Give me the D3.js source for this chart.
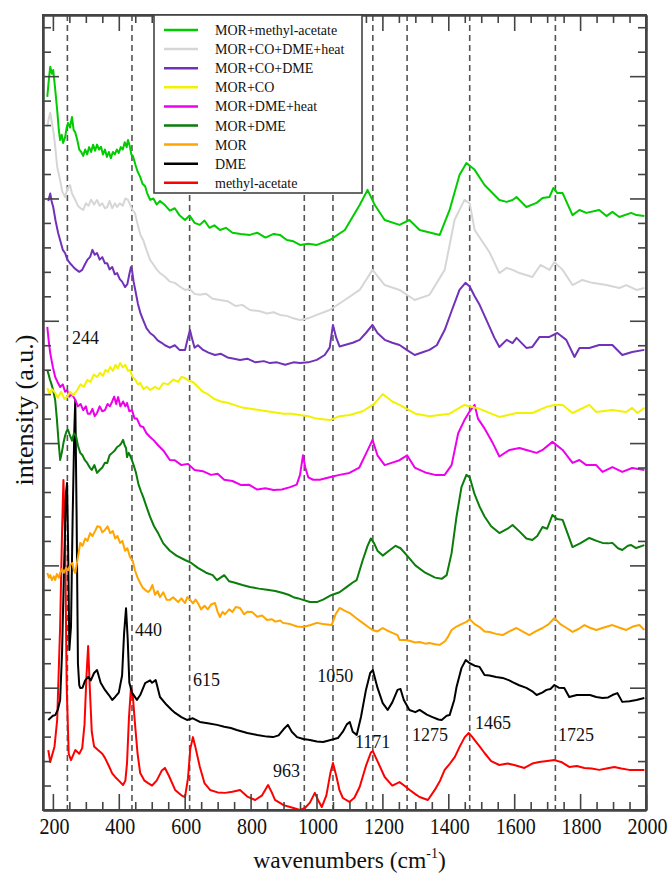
<!DOCTYPE html>
<html lang="en">
<head>
  <meta charset="UTF-8">
  <title>Raman spectra</title>
  <style type="text/css" media="all">
    body { margin: 0; background: #fff; }
    svg text { font-family: "Liberation Serif", "DejaVu Serif", serif; fill: #111; }
    .axis path, .axis line { stroke: #444; }
  </style>
</head>
<body>
  <div id="graph"></div>
  <script src="https://d3js.org/d3.v7.min.js" charset="utf-8"></script>
  <script>
    // legend order, top to bottom
    var seriesNames = ['MOR+methyl-acetate', 'MOR+CO+DME+heat', 'MOR+CO+DME', 'MOR+CO',
      'MOR+DME+heat', 'MOR+DME', 'MOR', 'DME', 'methyl-acetate'];
    var seriesColors = ['#00cc00', '#d6d6d6', '#7032b8', '#f2f200', '#ee00ee', '#0a7d0a', '#ffa500', '#000000', '#ff0000'];

    var peakLines = [244, 440, 615, 963, 1050, 1171, 1275, 1465, 1725];
    var peakLabels = ['244', '440', '615', '963', '1050', '1171', '1275', '1465', '1725'];
    var xTicks = [200, 400, 600, 800, 1000, 1200, 1400, 1600, 1800, 2000];

    // [wavenumber, intensity]
    var morMethylAcetate = [[183,29.15],[188,29.9],[192,30.38],[197,30.1],[201,30.25],[206,29.6],[213,28.62],[218,27.8],[222,27.39],[227,27.6],[231,27.27],[237,27.5],[242,27.9],[246,28.09],[252,27.9],[258,28.33],[263,27.8],[268,27.7],[274,27.39],[280,27.0],[286,26.9],[292,26.74],[298,27.0],[304,26.8],[310,27.1],[316,26.9],[322,27.2],[328,26.95],[334,27.2],[340,27.0],[346,27.11],[352,26.8],[358,27.0],[364,26.7],[370,26.9],[376,26.65],[382,26.9],[388,26.8],[394,27.0],[400,26.86],[406,27.1],[412,27.0],[418,27.3],[424,27.1],[428,27.39],[434,27.1],[438,26.8],[443,26.74],[450,26.4],[457,26.1],[465,25.88],[472,25.6],[480,25.5],[486,25.22],[495,24.94],[505,25.0],[515,24.75],[525,24.9],[540,24.73],[555,24.5],[570,24.6],[585,24.3],[601,24.12],[615,24.3],[630,24.0],[646,23.92],[660,24.1],[675,23.8],[690,23.9],[707,23.71],[725,23.8],[745,23.6],[770,23.55],[798,23.51],[820,23.6],[845,23.4],[870,23.55],[889,23.51],[910,23.3],[930,23.25],[950,23.1],[975,23.15],[1001,23.1],[1040,23.3],[1086,23.71],[1131,24.73],[1155,25.35],[1177,24.73],[1207,24.12],[1252,23.92],[1282,24.12],[1313,23.71],[1374,23.51],[1404,24.53],[1434,25.96],[1455,26.45],[1480,26.17],[1510,25.55],[1555,24.94],[1577,24.86],[1595,24.94],[1607,25.06],[1637,24.65],[1668,24.82],[1686,25.02],[1707,25.06],[1719,25.43],[1731,25.22],[1747,25.22],[1777,24.32],[1798,24.53],[1819,24.41],[1858,24.53],[1880,24.28],[1898,24.45],[1919,24.24],[1955,24.41],[1971,24.32],[1995,24.28]];

    var morCoDmeHeat = [[183,27.92],[188,28.3],[192,28.5],[197,28.1],[203,27.6],[208,27.0],[213,26.3],[222,25.75],[228,25.3],[237,25.06],[244,25.4],[252,25.55],[258,25.2],[268,24.94],[276,24.7],[284,24.6],[292,24.53],[300,24.8],[308,24.7],[316,24.95],[325,24.75],[334,24.94],[342,24.7],[350,24.8],[358,24.6],[365,24.65],[372,24.9],[380,24.6],[388,24.8],[395,24.65],[403,24.8],[412,24.7],[420,25.0],[428,24.94],[436,24.7],[443,24.5],[449,24.41],[458,23.9],[466,23.5],[474,23.3],[484,22.9],[495,22.49],[505,22.3],[515,22.1],[525,21.95],[540,21.8],[555,21.6],[570,21.55],[585,21.4],[601,21.26],[615,21.3],[630,21.1],[646,21.06],[665,21.1],[685,20.9],[707,20.85],[730,20.8],[755,20.6],[775,20.65],[798,20.44],[825,20.4],[850,20.3],[870,20.35],[889,20.24],[910,20.2],[930,20.1],[950,20.03],[975,20.1],[1001,20.24],[1040,20.44],[1086,20.85],[1131,21.26],[1170,22.08],[1207,21.46],[1252,21.26],[1298,20.85],[1343,21.06],[1389,22.08],[1419,24.12],[1449,24.94],[1465,24.8],[1480,23.71],[1525,22.8],[1555,21.95],[1577,22.16],[1595,22.08],[1616,21.95],[1655,21.79],[1680,22.28],[1707,22.08],[1722,22.4],[1747,22.08],[1777,21.46],[1807,21.67],[1837,21.55],[1880,21.46],[1919,21.34],[1940,21.46],[1971,21.26],[1995,21.34]];

    var morCoDme = [[186,24.9],[192,25.2],[196,24.9],[201,24.65],[208,24.1],[216,23.59],[224,23.2],[230,22.9],[237,22.77],[244,22.5],[252,22.35],[262,22.2],[270,22.1],[280,22.0],[289,22.08],[297,22.3],[305,22.5],[313,22.61],[320,22.9],[327,22.7],[334,22.77],[342,22.5],[350,22.6],[358,22.35],[365,22.35],[372,22.1],[380,22.2],[388,21.9],[395,21.95],[403,21.7],[410,21.6],[419,21.38],[426,21.5],[432,21.9],[437,22.2],[440,22.08],[445,21.6],[450,21.26],[458,20.7],[466,20.3],[474,20.03],[484,19.7],[495,19.5],[505,19.4],[518,19.2],[530,19.1],[540,19.0],[555,18.9],[570,19.0],[585,18.8],[601,18.8],[608,19.2],[616,19.62],[622,19.3],[630,18.9],[640,19.0],[656,18.81],[672,18.7],[692,18.6],[710,18.65],[730,18.5],[750,18.45],[768,18.4],[790,18.45],[815,18.3],[840,18.35],[859,18.27],[880,18.3],[905,18.2],[930,18.3],[950,18.27],[975,18.3],[1001,18.4],[1025,18.6],[1040,18.9],[1050,19.83],[1060,19.3],[1070,18.95],[1086,19.01],[1110,19.1],[1131,19.22],[1150,19.5],[1170,19.83],[1185,19.5],[1207,19.22],[1230,19.1],[1252,19.01],[1275,18.8],[1298,18.6],[1320,18.7],[1343,18.81],[1365,19.0],[1389,19.62],[1410,20.4],[1434,21.26],[1452,21.55],[1465,21.4],[1480,21.0],[1495,20.65],[1520,19.9],[1540,19.3],[1555,18.93],[1577,19.22],[1595,19.09],[1607,19.3],[1637,18.89],[1655,18.93],[1677,19.34],[1707,19.34],[1731,19.5],[1758,19.22],[1783,18.52],[1798,18.89],[1828,18.89],[1858,19.01],[1898,19.01],[1928,18.6],[1958,18.72],[1995,18.81]];

    var morCo = [[183,17.25],[190,17.0],[197,17.2],[207,17.05],[215,16.85],[225,17.1],[235,16.8],[243,16.88],[252,17.1],[262,16.95],[274,17.17],[284,17.4],[294,17.3],[304,17.58],[314,17.5],[324,17.8],[334,17.7],[343,17.87],[352,17.75],[360,18.0],[367,17.9],[374,18.11],[382,17.95],[390,18.2],[397,18.05],[404,18.27],[412,18.1],[420,18.2],[428,17.95],[434,17.99],[442,17.7],[450,17.6],[458,17.4],[465,17.46],[475,17.2],[485,17.3],[495,17.17],[510,17.3],[522,17.2],[535,17.45],[550,17.4],[565,17.6],[580,17.5],[590,17.7],[601,17.66],[612,17.55],[625,17.5],[640,17.3],[655,17.1],[670,17.0],[690,16.8],[710,16.7],[730,16.65],[750,16.56],[775,16.45],[800,16.4],[825,16.35],[850,16.3],[875,16.25],[900,16.2],[925,16.2],[950,16.15],[975,16.1],[1000,16.0],[1040,15.94],[1070,16.1],[1101,16.15],[1140,16.3],[1175,16.6],[1201,17.0],[1230,16.7],[1252,16.56],[1300,16.2],[1343,16.1],[1404,16.2],[1449,16.56],[1495,16.4],[1555,16.07],[1607,16.23],[1655,16.23],[1698,16.48],[1722,16.56],[1747,16.56],[1777,16.23],[1828,16.56],[1849,16.27],[1898,16.35],[1940,16.27],[1958,16.44],[1974,16.23],[1995,16.44]];

    var morDmeHeat = [[183,19.75],[188,19.1],[192,18.68],[200,18.1],[207,17.7],[214,17.5],[222,17.29],[230,17.4],[237,17.1],[243,17.17],[250,16.9],[258,17.0],[268,16.76],[276,16.5],[284,16.6],[292,16.35],[300,16.5],[306,16.2],[313,16.2],[320,16.4],[327,16.1],[334,16.23],[342,16.5],[350,16.3],[358,16.35],[366,16.6],[373,16.5],[380,16.7],[386,16.9],[392,16.6],[398,16.88],[405,16.5],[413,16.7],[420,16.5],[425,16.64],[432,16.3],[440,16.35],[448,16.0],[455,16.0],[465,15.7],[474,15.66],[484,15.4],[495,15.25],[507,15.1],[520,14.9],[535,14.7],[555,14.31],[570,14.3],[590,14.1],[610,14.15],[630,13.9],[655,13.85],[680,13.7],[700,13.75],[720,13.5],[745,13.45],[770,13.29],[795,13.3],[820,13.1],[845,13.15],[870,13.08],[895,13.1],[920,13.2],[940,13.3],[950,13.7],[959,14.5],[966,14.0],[975,13.6],[990,13.5],[1010,13.5],[1040,13.6],[1070,13.7],[1100,13.78],[1130,14.0],[1155,14.7],[1170,15.13],[1185,14.5],[1207,14.1],[1230,14.2],[1252,14.3],[1275,14.5],[1298,14.0],[1330,13.8],[1360,13.7],[1389,13.7],[1410,14.1],[1430,15.4],[1449,15.94],[1465,16.3],[1480,16.56],[1490,16.0],[1510,15.6],[1535,15.0],[1555,14.45],[1586,14.72],[1616,14.8],[1637,14.72],[1668,14.6],[1686,14.72],[1716,15.05],[1747,14.72],[1777,14.19],[1798,14.31],[1819,14.1],[1849,14.1],[1868,13.82],[1898,14.02],[1928,13.82],[1958,13.98],[1995,13.9]];

    var morDme = [[183,17.99],[187,17.8],[191,17.6],[196,17.4],[200,17.2],[207,16.76],[212,16.0],[217,15.1],[222,14.31],[227,14.6],[232,15.0],[237,15.3],[242,15.5],[246,15.54],[252,15.3],[258,15.1],[264,15.4],[270,15.3],[276,14.9],[283,14.6],[290,14.5],[297,14.3],[304,14.19],[312,14.0],[318,13.9],[326,14.1],[334,13.78],[342,13.9],[350,14.0],[358,14.2],[365,14.19],[372,14.5],[380,14.6],[388,14.7],[395,14.84],[402,14.9],[408,15.0],[413,15.13],[418,14.9],[422,14.8],[425,14.43],[430,14.6],[434,14.5],[440,14.3],[445,14.1],[452,13.8],[460,13.3],[468,13.0],[474,12.8],[484,12.4],[495,11.98],[507,11.6],[520,11.3],[535,10.9],[555,10.6],[575,10.4],[601,10.22],[620,10.1],[640,9.9],[665,9.7],[685,9.6],[698,9.4],[720,9.6],[735,9.35],[750,9.3],[775,9.2],[798,9.12],[825,9.05],[850,9.0],[875,8.95],[898,8.87],[915,8.8],[930,8.7],[945,8.65],[959,8.59],[980,8.5],[1001,8.5],[1020,8.6],[1046,8.79],[1070,8.9],[1092,9.12],[1110,9.3],[1122,9.4],[1140,10.2],[1155,10.8],[1165,11.1],[1175,10.9],[1185,10.6],[1201,10.4],[1220,10.6],[1240,10.8],[1255,10.7],[1275,10.4],[1300,10.0],[1330,9.7],[1360,9.5],[1380,9.45],[1395,9.6],[1410,10.5],[1425,12.0],[1440,13.2],[1455,13.7],[1465,13.6],[1480,12.9],[1495,12.4],[1510,12.0],[1530,11.6],[1555,11.32],[1580,11.5],[1595,11.65],[1615,11.4],[1637,11.1],[1655,11.04],[1670,11.2],[1686,11.57],[1700,11.5],[1716,12.06],[1730,11.9],[1747,11.86],[1765,11.2],[1777,10.75],[1800,10.9],[1828,11.12],[1850,11.0],[1868,10.92],[1885,10.9],[1898,10.92],[1915,10.7],[1928,10.63],[1945,10.8],[1955,10.83],[1970,10.71],[1995,10.83]];

    var mor = [[183,9.69],[188,9.5],[192,9.6],[197,9.4],[203,9.55],[207,9.4],[212,9.65],[218,9.5],[222,9.7],[228,9.85],[234,9.7],[240,9.9],[246,9.8],[252,10.0],[259,10.1],[264,9.8],[268,9.69],[273,10.1],[278,10.5],[283,10.92],[290,10.8],[298,11.1],[305,11.0],[313,11.32],[320,11.2],[328,11.4],[335,11.6],[343,11.57],[350,11.35],[358,11.45],[366,11.6],[374,11.32],[382,11.4],[389,11.1],[396,11.2],[404,10.92],[411,11.0],[419,10.6],[426,10.7],[434,10.34],[442,10.2],[449,9.8],[457,9.5],[465,9.28],[472,9.1],[480,9.0],[489,8.91],[495,8.99],[502,9.2],[510,8.8],[518,8.95],[525,8.7],[535,8.9],[545,8.6],[555,8.59],[565,8.7],[580,8.5],[590,8.65],[601,8.46],[608,8.7],[616,8.6],[625,8.45],[633,8.6],[640,8.46],[650,8.2],[660,8.35],[670,8.2],[680,8.4],[692,8.46],[700,8.1],[707,7.89],[715,8.1],[722,8.0],[735,8.2],[745,8.1],[755,8.3],[768,8.26],[780,8.0],[790,8.1],[805,8.09],[820,7.9],[835,7.95],[850,7.77],[865,7.8],[875,7.7],[890,7.75],[898,7.65],[920,7.6],[941,7.5],[959,7.48],[980,7.55],[1001,7.65],[1020,7.6],[1046,7.56],[1058,8.0],[1070,8.26],[1085,8.15],[1101,8.05],[1120,7.85],[1140,7.65],[1155,7.5],[1170,7.36],[1185,7.3],[1201,7.44],[1220,7.3],[1246,7.15],[1252,6.95],[1270,6.95],[1282,6.92],[1300,6.85],[1313,6.87],[1330,6.8],[1343,6.83],[1360,6.78],[1374,6.75],[1390,6.9],[1400,7.1],[1410,7.36],[1425,7.5],[1440,7.6],[1455,7.69],[1465,7.8],[1480,7.6],[1495,7.48],[1510,7.3],[1525,7.28],[1545,7.2],[1565,7.15],[1585,7.3],[1607,7.44],[1625,7.3],[1646,7.15],[1665,7.3],[1686,7.44],[1705,7.6],[1722,7.85],[1740,7.6],[1758,7.45],[1777,7.28],[1795,7.4],[1813,7.56],[1830,7.45],[1849,7.36],[1870,7.45],[1898,7.56],[1920,7.45],[1940,7.36],[1960,7.5],[1980,7.56],[1995,7.36]];

    var dme = [[186,3.68],[200,3.85],[207,3.88],[215,4.1],[222,4.5],[228,6.5],[234,10.0],[240,13.0],[243,13.37],[246,11.0],[250,6.54],[255,7.5],[260,12.0],[265,15.5],[268,16.76],[272,12.0],[276,6.0],[280,5.1],[283,4.99],[290,5.0],[298,5.3],[307,5.44],[315,5.3],[325,5.6],[334,5.72],[345,5.2],[358,4.91],[370,4.7],[380,4.5],[389,4.62],[400,4.8],[410,5.5],[416,7.2],[422,8.25],[427,7.0],[432,5.2],[440,4.8],[455,4.5],[465,4.7],[480,5.19],[495,5.3],[501,5.2],[512,5.31],[525,4.62],[545,4.3],[560,4.1],[571,3.97],[590,3.8],[607,3.68],[625,3.75],[646,3.6],[670,3.55],[698,3.48],[720,3.4],[740,3.35],[758,3.27],[790,3.15],[820,3.07],[850,3.0],[868,2.98],[885,3.05],[900,3.3],[913,3.48],[925,3.2],[941,2.98],[960,2.9],[980,2.86],[1001,2.8],[1020,2.78],[1040,2.85],[1065,2.94],[1080,3.2],[1092,3.5],[1101,3.6],[1110,3.2],[1122,3.07],[1135,3.8],[1150,4.9],[1163,5.6],[1171,5.72],[1185,5.0],[1201,4.37],[1216,4.09],[1230,4.4],[1246,4.91],[1255,4.95],[1265,4.5],[1282,4.09],[1300,4.0],[1313,4.09],[1335,3.9],[1352,3.8],[1370,3.7],[1380,3.68],[1395,3.85],[1404,3.88],[1418,4.5],[1425,5.03],[1440,5.8],[1453,6.13],[1465,6.0],[1480,5.9],[1495,5.85],[1510,5.52],[1525,5.5],[1545,5.44],[1565,5.4],[1585,5.3],[1595,5.23],[1615,5.1],[1637,4.99],[1655,4.85],[1668,4.7],[1685,4.8],[1698,4.91],[1710,4.95],[1722,5.11],[1735,5.0],[1752,4.99],[1767,4.62],[1790,4.7],[1807,4.7],[1830,4.7],[1849,4.62],[1868,4.58],[1885,4.6],[1898,4.7],[1913,4.78],[1928,4.42],[1950,4.45],[1971,4.5],[1995,4.58]];

    var methylAcetate = [[186,2.45],[192,1.96],[205,2.6],[213,3.68],[222,7.5],[228,11.5],[232,13.49],[237,11.0],[242,5.0],[248,2.3],[255,2.04],[268,2.45],[280,2.3],[289,2.53],[296,3.5],[302,5.5],[307,6.7],[312,5.0],[318,3.2],[325,2.6],[337,2.45],[350,2.3],[358,2.13],[370,1.8],[380,1.5],[389,1.35],[400,1.2],[413,1.02],[420,1.2],[425,1.92],[431,3.8],[437,5.0],[443,4.6],[449,3.55],[457,2.3],[465,1.51],[478,1.2],[489,1.1],[501,1.0],[515,1.2],[530,1.6],[540,1.72],[552,1.4],[571,0.82],[590,0.6],[601,0.53],[610,1.3],[617,2.5],[625,2.98],[632,2.6],[646,1.76],[660,1.1],[677,0.82],[700,0.72],[722,0.7],[745,0.75],[768,0.82],[790,0.55],[814,0.41],[835,0.6],[853,1.02],[865,0.7],[874,0.41],[900,0.2],[920,0.12],[950,0.0],[965,0.08],[980,0.3],[995,0.7],[1005,0.4],[1016,0.12],[1030,0.6],[1042,1.5],[1050,1.92],[1060,1.4],[1070,0.8],[1080,0.49],[1100,0.33],[1115,0.5],[1131,0.94],[1150,1.8],[1165,2.35],[1171,2.41],[1185,2.0],[1207,1.35],[1230,1.0],[1252,1.14],[1266,1.0],[1283,0.82],[1300,0.65],[1313,0.53],[1338,0.41],[1359,0.82],[1375,1.2],[1389,1.64],[1405,1.9],[1420,2.17],[1435,2.6],[1450,2.98],[1462,3.15],[1472,3.0],[1480,2.86],[1495,2.6],[1510,2.33],[1530,2.0],[1555,1.84],[1580,1.9],[1600,1.84],[1631,1.72],[1655,1.9],[1676,1.96],[1700,2.0],[1722,2.04],[1745,1.95],[1767,1.76],[1790,1.8],[1813,1.72],[1835,1.7],[1858,1.64],[1880,1.7],[1904,1.76],[1925,1.7],[1949,1.64],[1970,1.64],[1995,1.64]];

    var seriesData = [morMethylAcetate, morCoDmeHeat, morCoDme, morCo, morDmeHeat, morDme, mor, dme, methylAcetate];

    // annotation anchors (text baseline): [wavenumber, intensity]
    var labelSpots = [[258, 19.05], [449, 7.11], [625, 5.07], [868, 1.35], [1002, 5.23], [1117, 2.53], [1290, 2.82], [1481, 3.31], [1733, 2.82]];

    var margin = { top: 15, right: 26, bottom: 65, left: 43 };
    var width = 672 - margin.left - margin.right;
    var height = 875 - margin.top - margin.bottom;

    var x = d3.scaleLinear().domain([170, 2000]).range([0, width]);
    var y = d3.scaleLinear().domain([0, 32.5]).range([height, 0]);

    var svg = d3.select('#graph').append('svg')
        .attr('width', 672)
        .attr('height', 875);

    var g = svg.append('g')
        .attr('transform', 'translate(' + margin.left + ',' + margin.top + ')');

    g.append('clipPath').attr('id', 'plotClip')
      .append('rect').attr('width', width).attr('height', height);

    // dashed peak markers
    g.selectAll('.peak')
      .data(peakLines)
      .enter().append('line')
        .attr('class', 'peak')
        .attr('x1', function(d) { return x(d); })
        .attr('x2', function(d) { return x(d); })
        .attr('y1', 0)
        .attr('y2', height)
        .attr('stroke', '#555')
        .attr('stroke-width', 1.6)
        .attr('stroke-dasharray', '6,4');

    var line = d3.line()
        .x(function(d) { return x(d[0]); })
        .y(function(d) { return y(d[1]); });

    // bottom series first
    var order = d3.range(seriesData.length).reverse();
    g.append('g').attr('clip-path', 'url(#plotClip)')
      .selectAll('path')
      .data(order)
      .enter().append('path')
        .attr('d', function(i) { return line(seriesData[i]); })
        .attr('fill', 'none')
        .attr('stroke', function(i) { return seriesColors[i]; })
        .attr('stroke-width', 2)
        .attr('stroke-linejoin', 'round');

    g.selectAll('.peakLabel')
      .data(labelSpots)
      .enter().append('text')
        .attr('class', 'peakLabel')
        .attr('x', function(d) { return x(d[0]); })
        .attr('y', function(d) { return y(d[1]); })
        .attr('font-size', 18)
        .text(function(d, i) { return peakLabels[i]; });

    // axes: ticks point inward on all four sides
    var minorX = d3.range(200, 2001, 50).filter(function(d) { return d % 200 !== 0; });
    var majorY = d3.range(0, 31, 5);
    var minorY = d3.range(0, 33, 1).filter(function(d) { return d % 5 !== 0; });

    function styleAxis(sel) {
      sel.attr('class', 'axis');
      sel.selectAll('path').attr('stroke-width', 2);
      sel.selectAll('line').attr('stroke-width', 1.6);
    }

    // tick numbers in the figure are a little taller than wide
    g.append('g').attr('transform', 'translate(0,' + height + ')')
      .call(d3.axisBottom(x).tickValues(xTicks).tickSize(-16).tickSizeOuter(0).tickFormat(d3.format('d')))
      .call(styleAxis)
      .call(function(a) {
        a.selectAll('text')
          .attr('y', 0)
          .attr('dy', null)
          .attr('transform', 'translate(1,24) scale(1,1.2)')
          .attr('font-size', 20)
          .attr('font-family', '"Liberation Serif", serif')
          .attr('fill', '#111');
      });
    g.append('g').attr('transform', 'translate(0,' + height + ')')
      .call(d3.axisBottom(x).tickValues(minorX).tickSize(-8).tickSizeOuter(0).tickFormat(''))
      .call(styleAxis);
    g.append('g')
      .call(d3.axisTop(x).tickValues(xTicks).tickSize(-16).tickSizeOuter(0).tickFormat(''))
      .call(styleAxis);
    g.append('g')
      .call(d3.axisTop(x).tickValues(minorX).tickSize(-8).tickSizeOuter(0).tickFormat(''))
      .call(styleAxis);
    g.append('g')
      .call(d3.axisLeft(y).tickValues(majorY).tickSize(-16).tickSizeOuter(0).tickFormat(''))
      .call(styleAxis);
    g.append('g')
      .call(d3.axisLeft(y).tickValues(minorY).tickSize(-8).tickSizeOuter(0).tickFormat(''))
      .call(styleAxis);
    g.append('g').attr('transform', 'translate(' + width + ',0)')
      .call(d3.axisRight(y).tickValues(majorY).tickSize(-16).tickSizeOuter(0).tickFormat(''))
      .call(styleAxis);
    g.append('g').attr('transform', 'translate(' + width + ',0)')
      .call(d3.axisRight(y).tickValues(minorY).tickSize(-8).tickSizeOuter(0).tickFormat(''))
      .call(styleAxis);

    g.append('rect')
      .attr('width', width)
      .attr('height', height)
      .attr('fill', 'none')
      .attr('stroke', '#444')
      .attr('stroke-width', 2);

    // legend box sits on the top frame
    var legend = g.append('g').attr('transform', 'translate(' + (154 - margin.left) + ',0)');
    legend.append('rect')
      .attr('width', 208)
      .attr('height', 178)
      .attr('fill', '#fff')
      .attr('stroke', '#444')
      .attr('stroke-width', 1.6);
    var rows = legend.selectAll('.row')
      .data(seriesNames)
      .enter().append('g')
        .attr('transform', function(d, i) { return 'translate(0,' + (15 + i * 19.1) + ')'; });
    rows.append('line')
      .attr('x1', 10).attr('x2', 44)
      .attr('stroke', function(d, i) { return seriesColors[i]; })
      .attr('stroke-width', 2.5);
    rows.append('text')
      .attr('x', 61)
      .attr('y', 5)
      .attr('font-size', 14)
      .text(function(d) { return d; });

    // axis titles
    var xTitle = svg.append('text')
      .attr('x', margin.left + width / 2 + 5)
      .attr('y', 868)
      .attr('text-anchor', 'middle')
      .attr('font-size', 23.5);
    xTitle.append('tspan').text('wavenumbers (cm');
    xTitle.append('tspan').attr('dy', -10).attr('font-size', 14).text('-1');
    xTitle.append('tspan').attr('dy', 10).text(')');

    svg.append('text')
      .attr('transform', 'translate(33,410) rotate(-90)')
      .attr('text-anchor', 'middle')
      .attr('font-size', 26)
      .text('intensity (a.u.)');
  </script>
</body>
</html>
